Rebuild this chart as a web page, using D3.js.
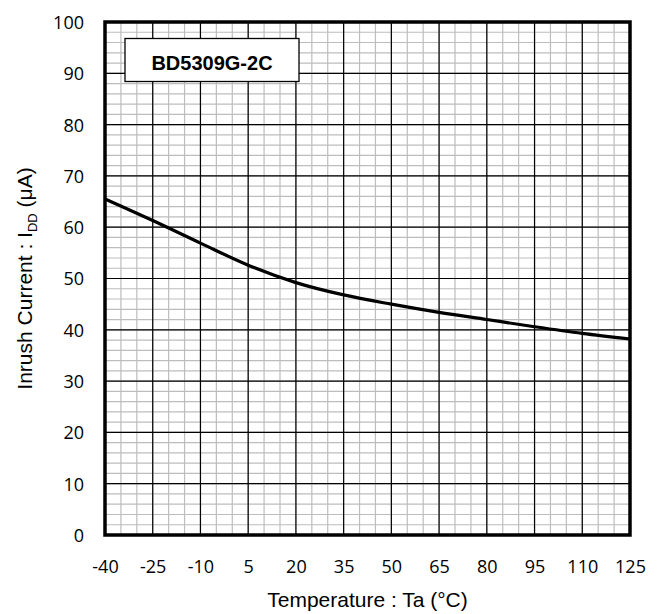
<!DOCTYPE html>
<html>
<head>
<meta charset="utf-8">
<script src="https://cdn.jsdelivr.net/npm/d3@7"></script>
<style>
  body { margin: 0; background: #fff; }
  text { font-family: "Liberation Sans", Arial, sans-serif; }
</style>
</head>
<body>
<svg width="664" height="614"></svg>
<script>
// data
var temps = [-40, -25, -10, 5, 20, 35, 50, 65, 80, 95, 110, 125];
var current = [65.5, 61.3, 56.9, 52.6, 49.2, 46.8, 45.0, 43.4, 42.0, 40.6, 39.3, 38.2];
var xTicks = [-40, -25, -10, 5, 20, 35, 50, 65, 80, 95, 110, 125];
var yTicks = [0, 10, 20, 30, 40, 50, 60, 70, 80, 90, 100];
var label = "BD5309G-2C";

var svg = d3.select("svg"),
    margin = {top: 22, right: 34, bottom: 79, left: 105},
    width = 664 - margin.left - margin.right,
    height = 614 - margin.top - margin.bottom,
    g = svg.append("g").attr("transform", "translate(" + margin.left + "," + margin.top + ")");

var x = d3.scaleLinear().domain([-40, 125]).range([0, width]),
    y = d3.scaleLinear().domain([0, 100]).range([height, 0]);

// minor grid
g.append("g").selectAll("line")
    .data(d3.range(-40, 126, 5))
    .enter().append("line")
    .attr("x1", function(d) { return x(d); })
    .attr("x2", function(d) { return x(d); })
    .attr("y1", 0).attr("y2", height)
    .attr("stroke", "#bdbdbd").attr("stroke-width", 1.2);

g.append("g").selectAll("line")
    .data(d3.range(0, 101, 2))
    .enter().append("line")
    .attr("y1", function(d) { return y(d); })
    .attr("y2", function(d) { return y(d); })
    .attr("x1", 0).attr("x2", width)
    .attr("stroke", "#bdbdbd").attr("stroke-width", 1.2);

// major grid
g.append("g").selectAll("line")
    .data(xTicks)
    .enter().append("line")
    .attr("x1", function(d) { return x(d); })
    .attr("x2", function(d) { return x(d); })
    .attr("y1", 0).attr("y2", height)
    .attr("stroke", "#000").attr("stroke-width", 1.2);

g.append("g").selectAll("line")
    .data(yTicks)
    .enter().append("line")
    .attr("y1", function(d) { return y(d); })
    .attr("y2", function(d) { return y(d); })
    .attr("x1", 0).attr("x2", width)
    .attr("stroke", "#000").attr("stroke-width", 1.2);

// axes (labels only), plain hyphen for negatives
var fmt = function(d) { return String(d); };

var xAxis = g.append("g")
    .attr("transform", "translate(0," + height + ")")
    .call(d3.axisBottom(x).tickValues(xTicks).tickSize(0).tickFormat(fmt));
xAxis.select(".domain").remove();
xAxis.selectAll("text")
    .attr("y", 38).attr("dy", 0)
    .style("font-family", "'Open Sans', sans-serif")
    .style("font-size", "18px").attr("fill", "#000");

var yAxis = g.append("g")
    .call(d3.axisLeft(y).tickValues(yTicks).tickSize(0).tickFormat(fmt));
yAxis.select(".domain").remove();
yAxis.selectAll("text")
    .attr("x", -21).attr("dy", "0.36em")
    .style("font-family", "'Open Sans', sans-serif")
    .style("font-size", "18px").attr("fill", "#000");

// curve
var line = d3.line()
    .curve(d3.curveMonotoneX)
    .x(function(d, i) { return x(temps[i]); })
    .y(function(d) { return y(d); });

g.append("path")
    .datum(current)
    .attr("d", line)
    .attr("fill", "none")
    .attr("stroke", "#000")
    .attr("stroke-width", 3.2);

// border
g.append("rect")
    .attr("width", width).attr("height", height)
    .attr("fill", "none")
    .attr("stroke", "#000")
    .attr("stroke-width", 3.5);

// device label box
g.append("rect")
    .attr("x", 20).attr("y", 16.5)
    .attr("width", 174).attr("height", 43)
    .attr("fill", "#fff")
    .attr("stroke", "#000")
    .attr("stroke-width", 1.3);
g.append("text")
    .attr("x", 107).attr("y", 48)
    .attr("text-anchor", "middle")
    .style("font-size", "20px")
    .style("font-weight", "bold")
    .text(label);

// axis titles
svg.append("text")
    .attr("x", margin.left + width / 2)
    .attr("y", 607)
    .attr("text-anchor", "middle")
    .style("font-size", "21px")
    .text("Temperature : Ta (°C)");

var yt = svg.append("text")
    .attr("transform", "translate(32," + (margin.top + height / 2) + ") rotate(-90)")
    .attr("text-anchor", "middle")
    .style("font-size", "21px");
yt.append("tspan").text("Inrush Current : I");
yt.append("tspan").attr("dy", 5).style("font-size", "13px").text("DD");
yt.append("tspan").attr("dy", -5).text(" (μA)");
</script>
</body>
</html>
